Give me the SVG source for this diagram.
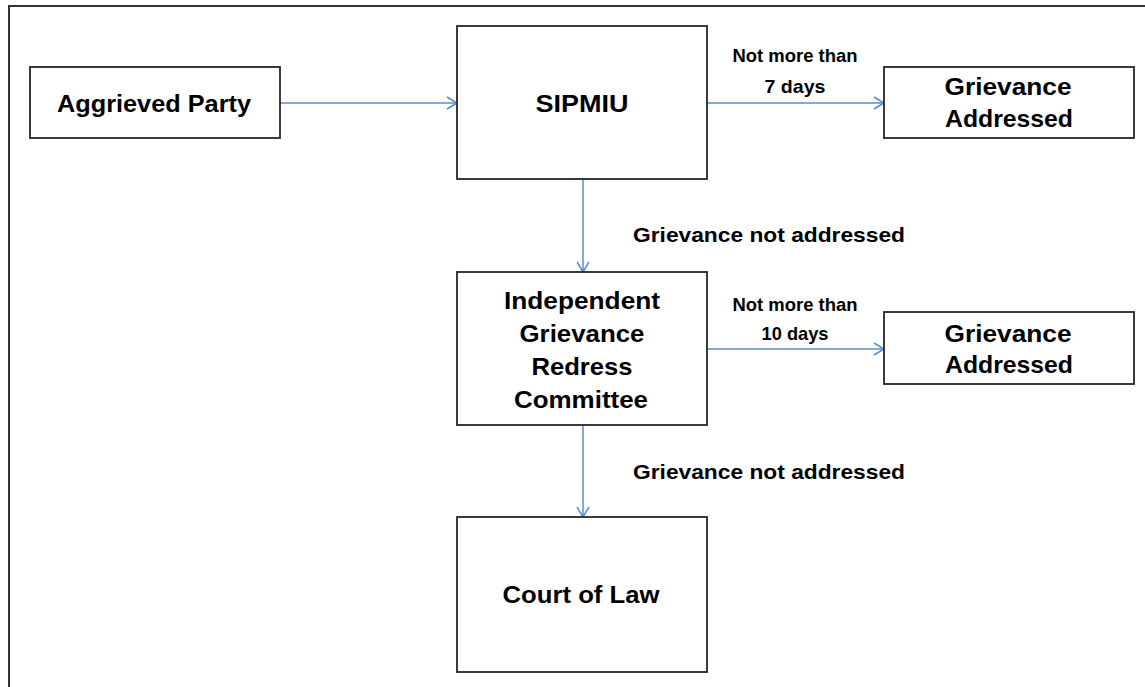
<svg xmlns="http://www.w3.org/2000/svg" width="1145" height="687" viewBox="0 0 1145 687">
<defs>
<marker id="arr" markerUnits="userSpaceOnUse" markerWidth="14" markerHeight="16" refX="11" refY="7" orient="auto" overflow="visible">
<path d="M1,1 L11,7 L1,13" fill="none" stroke="#5B8BD0" stroke-width="1.5"/>
</marker>
<style>
.box{fill:#fff;stroke:#262626;stroke-width:1.8}
.t{font-family:"Liberation Sans",Arial,sans-serif;font-weight:bold;font-size:24px;fill:#000;text-anchor:middle}
.lb{font-family:"Liberation Sans",Arial,sans-serif;font-weight:bold;font-size:21px;fill:#000;text-anchor:middle}
.sm{font-family:"Liberation Sans",Arial,sans-serif;font-weight:bold;font-size:19px;fill:#000;text-anchor:middle}
.c{fill:none;stroke:#5B8BD0;stroke-width:1.5;marker-end:url(#arr)}
</style>
</defs>
<rect width="1145" height="687" fill="#fff"/>
<g id="frame" stroke="#333" stroke-width="2" fill="none">
<path d="M9,687 L9,6 L1145,6"/>
</g>
<g id="connectors">
<line class="c" x1="280" y1="103" x2="457" y2="103"/>
<line class="c" x1="707" y1="103" x2="884" y2="103"/>
<line class="c" x1="583" y1="179" x2="583" y2="272"/>
<line class="c" x1="707" y1="349" x2="884" y2="349"/>
<line class="c" x1="583" y1="425" x2="583" y2="517"/>
<text class="sm" x="795" y="62" textLength="125" lengthAdjust="spacingAndGlyphs">Not more than</text>
<text class="sm" x="795" y="93" textLength="61" lengthAdjust="spacingAndGlyphs">7 days</text>
<text class="sm" x="795" y="311" textLength="125" lengthAdjust="spacingAndGlyphs">Not more than</text>
<text class="sm" x="795" y="340" textLength="67" lengthAdjust="spacingAndGlyphs">10 days</text>
<text class="lb" x="769" y="242" textLength="272" lengthAdjust="spacingAndGlyphs">Grievance not addressed</text>
<text class="lb" x="769" y="479" textLength="272" lengthAdjust="spacingAndGlyphs">Grievance not addressed</text>
</g>
<g id="aggrieved">
<rect class="box" x="30" y="67" width="250" height="71"/>
<text class="t" x="154" y="112" textLength="194" lengthAdjust="spacingAndGlyphs">Aggrieved Party</text>
</g>
<g id="sipmiu">
<rect class="box" x="457" y="26" width="250" height="153"/>
<text class="t" x="582" y="112" textLength="93" lengthAdjust="spacingAndGlyphs">SIPMIU</text>
</g>
<g id="addressed1">
<rect class="box" x="884" y="67" width="250" height="71"/>
<text class="t" x="1008" y="95" textLength="127" lengthAdjust="spacingAndGlyphs">Grievance</text>
<text class="t" x="1009" y="127" textLength="128" lengthAdjust="spacingAndGlyphs">Addressed</text>
</g>
<g id="igrc">
<rect class="box" x="457" y="272" width="250" height="153"/>
<text class="t" x="582" y="309" textLength="156" lengthAdjust="spacingAndGlyphs">Independent</text>
<text class="t" x="582" y="342" textLength="125" lengthAdjust="spacingAndGlyphs">Grievance</text>
<text class="t" x="582" y="375" textLength="101" lengthAdjust="spacingAndGlyphs">Redress</text>
<text class="t" x="581" y="408" textLength="134" lengthAdjust="spacingAndGlyphs">Committee</text>
</g>
<g id="addressed2">
<rect class="box" x="884" y="312" width="250" height="72"/>
<text class="t" x="1008" y="342" textLength="127" lengthAdjust="spacingAndGlyphs">Grievance</text>
<text class="t" x="1009" y="373" textLength="128" lengthAdjust="spacingAndGlyphs">Addressed</text>
</g>
<g id="court">
<rect class="box" x="457" y="517" width="250" height="155"/>
<text class="t" x="581" y="603" textLength="157" lengthAdjust="spacingAndGlyphs">Court of Law</text>
</g>
</svg>
